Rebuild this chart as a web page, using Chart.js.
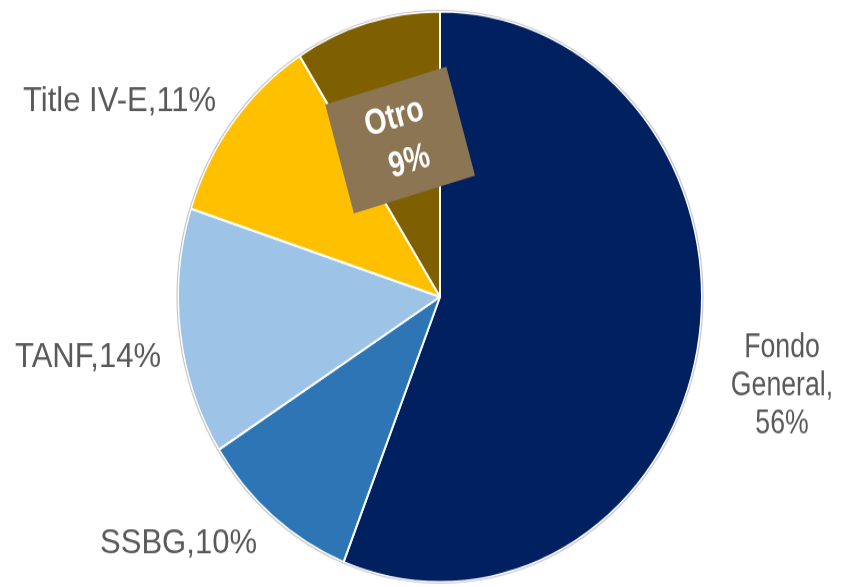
<!DOCTYPE html>
<html>
<head>
<meta charset="utf-8">
<script src="https://cdn.jsdelivr.net/npm/chart.js@4"></script>
<style>
    html, body { margin: 0; padding: 0; background: #ffffff; width: 853px; height: 587px; }
    #wrap { width: 853px; height: 539px; transform: scaleY(1.089); transform-origin: 0 0; }
</style>
</head>
<body>
<div id="wrap"><canvas id="pieChart" width="853" height="539"></canvas></div>
<script>
// datos del gráfico
const categorias = ['Fondo General', 'SSBG', 'TANF', 'Title IV-E', 'Otro'];
const porcentajes = [56, 10, 14, 11, 9];
const colores = ['#002060', '#2E75B6', '#9DC3E6', '#FFC000', '#7F6000'];

// etiquetas fuera del pastel, relativas al centro (dx, dy en px)
const etiquetas = {
    'Title IV-E': { lines: ['Title IV-E,11%'], dx: -417, dy: -171, align: 'left', narrow: false },
    'TANF': { lines: ['TANF,14%'], dx: -425, dy: 64, align: 'left', narrow: false },
    'SSBG': { lines: ['SSBG,10%'], dx: -340, dy: 235, align: 'left', narrow: false },
    'Fondo General': { lines: ['Fondo', 'General,', '56%'], dx: 342, dy: 55, align: 'center', narrow: true }
};

const labelsPlugin = {
    id: 'labelsPlugin',
    afterDatasetsDraw(chart) {
        const ctx = chart.ctx;
        const arcs = chart.getDatasetMeta(0).data;
        const cx = arcs[0].x, cy = arcs[0].y, r = arcs[0].outerRadius;

        // borde gris exterior
        ctx.save();
        ctx.beginPath();
        ctx.arc(cx, cy, r + 1, 0, Math.PI * 2);
        ctx.strokeStyle = '#C8C8C8';
        ctx.lineWidth = 1.2;
        ctx.stroke();
        ctx.restore();

        ctx.fillStyle = '#595959';
        ctx.textBaseline = 'alphabetic';
        categorias.forEach(cat => {
            const e = etiquetas[cat];
            if (!e) return;
            ctx.textAlign = e.align;
            e.lines.forEach((t, i) => {
                ctx.save();
                ctx.translate(cx + e.dx, cy + e.dy + i * 35);
                if (e.narrow) {
                    ctx.scale(0.86, 1);
                    ctx.font = '31px "Liberation Sans", Arial, sans-serif';
                } else {
                    ctx.scale(0.97, 1);
                    ctx.font = '32px "Liberation Sans", Arial, sans-serif';
                }
                ctx.fillText(t, 0, 0);
                ctx.restore();
            });
        });

        // caja de "Otro"
        const otro = arcs[categorias.indexOf('Otro')];
        const mid = (otro.startAngle + otro.endAngle) / 2;
        const bx = cx + Math.cos(mid) * r * 0.6 + 4;
        const by = cy + Math.sin(mid) * r * 0.6 + 7;
        ctx.save();
        ctx.translate(bx, by);
        ctx.rotate(-16 * Math.PI / 180);
        ctx.fillStyle = '#8B7553';
        ctx.fillRect(-63, -52, 126, 104);
        ctx.fillStyle = '#ffffff';
        ctx.textAlign = 'center';
        ctx.textBaseline = 'middle';
        ctx.scale(0.86, 1);
        ctx.font = 'bold 33px "Liberation Sans", Arial, sans-serif';
        ctx.fillText('Otro', 0, -21);
        ctx.fillText(porcentajes[4] + '%', 4, 22);
        ctx.restore();
    }
};

new Chart(document.getElementById('pieChart'), {
    type: 'pie',
    data: {
        labels: categorias,
        datasets: [{
            data: porcentajes,
            backgroundColor: colores,
            borderColor: '#ffffff',
            borderWidth: 2
        }]
    },
    options: {
        responsive: false,
        animation: false,
        layout: { padding: { left: 177, right: 150, top: 9.5, bottom: 3.5 } },
        plugins: {
            legend: { display: false },
            tooltip: { enabled: false }
        }
    },
    plugins: [labelsPlugin]
});
</script>
</body>
</html>
